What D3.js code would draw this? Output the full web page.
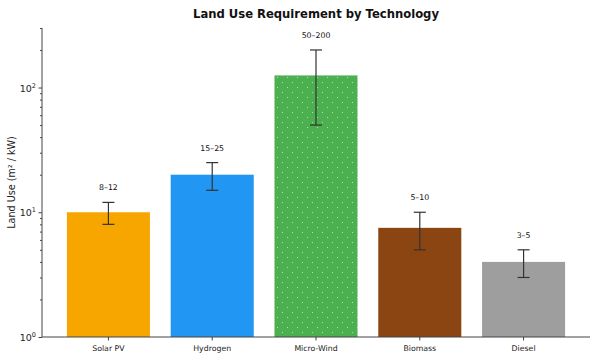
<!DOCTYPE html>
<html><head><meta charset="utf-8">
<script src="https://cdn.jsdelivr.net/npm/d3@7"></script>
<style>body{margin:0;background:#fff}svg{display:block;font-family:"DejaVu Sans",sans-serif}</style>
</head><body><svg id="c" width="600" height="360"></svg>
<script>
const categories = ["Solar PV","Hydrogen","Micro-Wind","Biomass","Diesel"];
const values = [10, 20, 125, 7.5, 4];
const lows = [8, 15, 50, 5, 3];
const highs = [12, 25, 200, 10, 5];
const rangeLabels = ["8–12","15–25","50–200","5–10","3–5"];
const colors = ["#f7a600","#2196f3","#4caf50","#8b4513","#9e9e9e"];
const yTicks = [1, 10, 100];

const svg = d3.select("#c");
const m = {l:42, r:10, t:28, b:23};
const W = 600, H = 360;
const x0 = m.l, x1 = W - m.r, y0 = H - m.b, y1 = m.t;

const x = d3.scaleLinear().domain([-0.64, 4.64]).range([x0, x1]);
const y = d3.scaleLog().domain([1, 300]).range([y0, y1]);

const defs = svg.append("defs");
const pat = defs.append("pattern").attr("id","dots").attr("patternUnits","userSpaceOnUse")
  .attr("width",10).attr("height",10);
pat.append("rect").attr("width",10).attr("height",10).attr("fill",colors[2]);
pat.append("rect").attr("x",2).attr("y",2).attr("width",1).attr("height",1).attr("fill","#a8e890");
pat.append("rect").attr("x",7).attr("y",7).attr("width",1).attr("height",1).attr("fill","#a8e890");

const bw = x(0.4) - x(0);
svg.append("g").selectAll("rect").data(categories).join("rect")
  .attr("x",(d,i)=>x(i)-bw).attr("width",bw*2)
  .attr("y",(d,i)=>y(values[i])).attr("height",(d,i)=>y(1)-y(values[i]))
  .attr("fill",(d,i)=> i===2 ? "url(#dots)" : colors[i]);

const eb = svg.append("g").attr("stroke","#333").attr("stroke-width",1.2);
categories.forEach((c,i)=>{
  const cx = x(i);
  eb.append("line").attr("x1",cx).attr("x2",cx).attr("y1",y(lows[i])).attr("y2",y(highs[i]));
  eb.append("line").attr("x1",cx-6).attr("x2",cx+6).attr("y1",y(lows[i])).attr("y2",y(lows[i]));
  eb.append("line").attr("x1",cx-6).attr("x2",cx+6).attr("y1",y(highs[i])).attr("y2",y(highs[i]));
  svg.append("text").attr("x",cx).attr("y",y(highs[i]*1.25)).attr("text-anchor","middle")
    .attr("font-size",7.8).attr("fill","#111").text(rangeLabels[i]);
});

// axes
const gy = svg.append("g").attr("transform",`translate(${x0},0)`);
const minor = [];
for (let d=1; d<=100; d*=10) for (let k=2;k<=9;k++) if (d*k<=300) minor.push(d*k);
gy.append("g").call(d3.axisLeft(y).tickValues(minor).tickSize(2).tickFormat(""))
  .call(g=>g.select(".domain").remove()).selectAll("line").attr("stroke","#444");
const major = gy.append("g").call(d3.axisLeft(y).tickValues(yTicks).tickSize(3.5).tickFormat(""));
major.select(".domain").attr("stroke","#444").attr("d",`M0,${y0}V${y1}`);
major.selectAll("line").attr("stroke","#444");
yTicks.forEach(v=>{
  const t = gy.append("text").attr("x",-6).attr("y",y(v)+4).attr("text-anchor","end")
    .attr("font-size",9.5).attr("fill","#222");
  t.append("tspan").text("10");
  t.append("tspan").attr("dy",-4).attr("font-size",6.5).text(String(Math.round(Math.log10(v))));
});

const gx = svg.append("g").attr("transform",`translate(0,${y0})`);
gx.append("line").attr("x1",x0).attr("x2",x1).attr("stroke","#444");
gx.call(g=>g.selectAll(".tk").data(categories).join("g").attr("class","tk").each(function(d,i){
  const s = d3.select(this);
  s.append("line").attr("x1",x(i)).attr("x2",x(i)).attr("y1",0).attr("y2",3.5).attr("stroke","#444");
  s.append("text").attr("x",x(i)).attr("y",14).attr("text-anchor","middle").attr("font-size",7.8)
    .attr("fill","#222").text(d);
}));

svg.append("text").attr("x",(x0+x1)/2).attr("y",18).attr("text-anchor","middle")
  .attr("font-size",11.6).attr("font-weight","bold").attr("fill","#111")
  .text("Land Use Requirement by Technology");
svg.append("text").attr("transform",`translate(15,${(y0+y1)/2}) rotate(-90)`)
  .attr("text-anchor","middle").attr("font-size",9.6).attr("fill","#222")
  .text("Land Use (m² / kW)");
</script></body></html>
